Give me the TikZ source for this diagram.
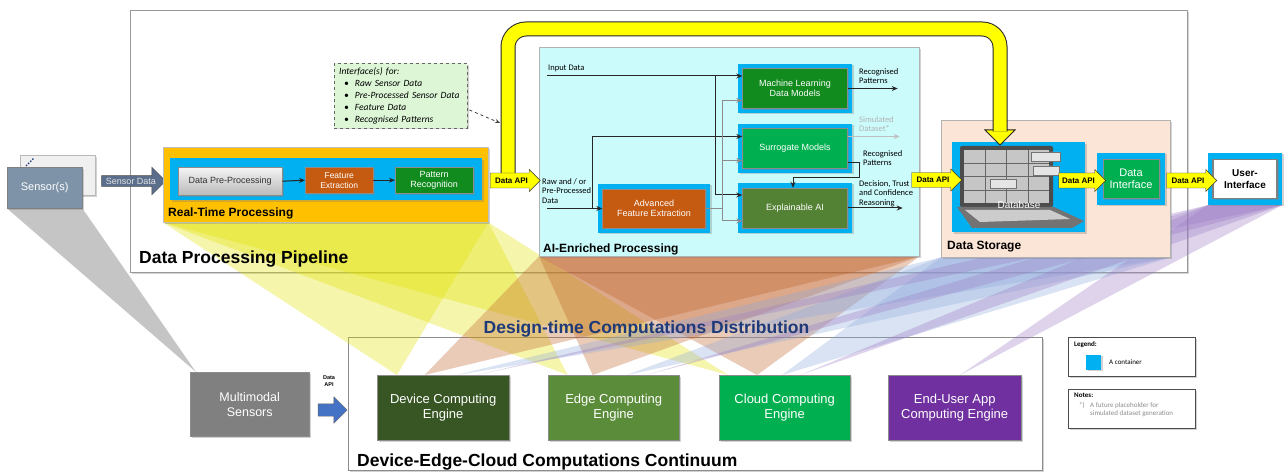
\documentclass[tikz,border=0pt]{standalone}
\usepackage{fontspec}
\setmainfont{Liberation Sans}
\newfontfamily\calib{Carlito}
\usetikzlibrary{shapes.arrows,shadows,calc,arrows.meta}

\definecolor{rtporange}{HTML}{FFC000}
\definecolor{contblue}{HTML}{00B0F0}
\definecolor{aicyan}{HTML}{CCFBFC}
\definecolor{storepeach}{HTML}{FBE5D6}
\definecolor{featorange}{HTML}{C55A11}
\definecolor{patgreen}{HTML}{118A1E}
\definecolor{surrgreen}{HTML}{00B050}
\definecolor{xaigreen}{HTML}{548235}
\definecolor{devgreen}{HTML}{375623}
\definecolor{edgegreen}{HTML}{5B8C3A}
\definecolor{apppurple}{HTML}{7030A0}
\definecolor{sensslate}{HTML}{7E93A8}
\definecolor{sensarrow}{HTML}{5B6E8C}
\definecolor{notegreen}{HTML}{DDF6D6}
\definecolor{navytext}{HTML}{1F3A78}
\definecolor{apiblue}{HTML}{4472C4}
\definecolor{apiyellow}{HTML}{FFFF00}
\definecolor{fanyellow}{HTML}{E2E200}
\definecolor{fanbrown}{HTML}{C0622A}
\definecolor{fanblue}{HTML}{8FAADC}
\definecolor{fanpurple}{HTML}{9B7BC4}

\pgfdeclarelayer{bg}
\pgfdeclarelayer{fans}
\pgfsetlayers{bg,fans,main}

\tikzset{
  shade box/.style={drop shadow={opacity=.35,shadow xshift=1.5pt,shadow yshift=-1.5pt}},
  area/.style={draw=black!35, inner sep=0pt, anchor=north west, shade box},
  cont/.style={fill=contblue, inner sep=0pt, shade box},
  blk/.style={draw=black!45, inner sep=1pt, align=center, text=white, font=\fontsize{9}{10.5}\selectfont, shade box},
  engine/.style={blk, anchor=north west, minimum height=65pt, font=\fontsize{13}{15.5}\selectfont},
  arealabel/.style={font=\bfseries\fontsize{12}{14}\selectfont, anchor=base west, inner sep=0pt},
  title/.style={font=\bfseries\fontsize{17.5}{20}\selectfont, inner sep=0pt},
  small/.style={font=\calib\fontsize{8.5}{9.7}\selectfont, align=left, inner sep=0pt, anchor=north west},
  flow/.style={line width=1pt, black!85, -{Stealth[length=6pt,width=5pt]}},
  gflow/.style={flow, black!45},
  api/.style={single arrow, draw=black!80, fill=apiyellow, font=\bfseries\fontsize{8}{9}\selectfont,
    inner xsep=2pt, inner ysep=4.5pt, single arrow head extend=3.5pt, minimum height=50pt},
  fan/.style={opacity=.33},
}

\begin{document}
\begin{tikzpicture}[x=1pt,y=-1pt]
\useasboundingbox (0,0) rectangle (1285,473);

% big frames
\begin{pgfonlayer}{bg}
\fill[white] (0,0) rectangle (1285,473);
\node[area, fill=white, draw=black!40, line width=.8pt, minimum width=1057pt, minimum height=262pt] (pipe) at (130,10) {};
\node[area, fill=white, draw=black!45, line width=.8pt, minimum width=694pt, minimum height=133pt] (contin) at (348,337) {};
\end{pgfonlayer}

% sensors
\node[area, fill=gray!12, draw=gray!55, minimum width=75pt, minimum height=40pt] (sensB) at (20,155) {};
\draw[navytext, line width=1.3pt, dash pattern=on 1.5pt off 1.5pt] (26,166) -- (34,158);
\node[blk, anchor=north west, fill=sensslate, draw=black!50, minimum width=75pt, minimum height=41pt,
  font=\fontsize{11}{13}\selectfont] (sensF) at (7,167) {Sensor(s)};
\node[single arrow, draw=black!70, fill=sensarrow, text=white!90!black, font=\fontsize{9}{10}\selectfont,
  inner xsep=1.5pt, inner ysep=2pt, single arrow head extend=8.5pt, minimum height=64pt] (sensArr) at (131,181) {Sensor Data};

% real-time processing
\node[area, fill=rtporange, draw=black!25, minimum width=325pt, minimum height=75pt] (rtp) at (163,147) {};
\node[arealabel] (rtpT) at (168,217) {Real-Time Processing};
\node[cont, anchor=north west, minimum width=312pt, minimum height=42pt] (rtC) at (170,158) {};
\node[blk, anchor=north west, top color=gray!8, bottom color=gray!55, text=black!80, minimum width=104pt, minimum height=28pt] (pre) at (178,167) {Data Pre-Processing};
\node[blk, anchor=north west, fill=featorange, minimum width=68pt, minimum height=26pt, font=\fontsize{8.5}{10}\selectfont] (feat) at (305,167) {Feature\\Extraction};
\node[blk, anchor=north west, fill=patgreen, minimum width=78pt, minimum height=26pt] (pat) at (395,167) {Pattern\\Recognition};
\draw[flow] (pre.east) -- (feat.west);
\draw[flow] (feat.east) -- (pat.west);

% note on the interfaces
\node[area, fill=notegreen, draw=black!60, dashed, align=left, text width=123pt, inner xsep=5pt, inner ysep=4pt,
  font=\calib\itshape\fontsize{9.5}{12}\selectfont] (note) at (334,63)
  {Interface(s) for:\\
   \hspace*{5pt}\textbullet\hspace{6pt}Raw Sensor Data\\
   \hspace*{5pt}\textbullet\hspace{6pt}Pre-Processed Sensor Data\\
   \hspace*{5pt}\textbullet\hspace{6pt}Feature Data\\
   \hspace*{5pt}\textbullet\hspace{6pt}Recognised Patterns};

% AI-enriched processing
\node[area, fill=aicyan, draw=black!30, minimum width=380pt, minimum height=209pt] (ai) at (539,47) {};
\node[arealabel] (aiT) at (543,252) {AI-Enriched Processing};
\node[cont, minimum width=114pt, minimum height=49pt] (mlC) at (795,88.5) {};
\node[blk, fill=patgreen, minimum width=105pt, minimum height=40pt] (ml) at (mlC) {Machine Learning\\Data Models};
\node[cont, minimum width=114pt, minimum height=49pt] (surrC) at (795,148.5) {};
\node[blk, fill=surrgreen, minimum width=105pt, minimum height=40pt] (surr) at (surrC) {Surrogate Models};
\node[cont, minimum width=114pt, minimum height=50pt] (xaiC) at (795,208) {};
\node[blk, fill=xaigreen, minimum width=105pt, minimum height=40pt] (xai) at (xaiC) {Explainable AI};
\node[cont, minimum width=112pt, minimum height=49pt] (afeC) at (654,208.5) {};
\node[blk, fill=featorange, minimum width=103pt, minimum height=39pt] (afe) at (afeC) {Advanced\\Feature Extraction};

\node[small, anchor=base west] (inT) at (548,71) {Input Data};
\coordinate (inA) at (547,76);
\draw[flow] (inA) -- (inA -| ml.west);
\draw[flow] ($(inA)+(168,0)$) |- ($(xai.west)+(0,-13)$);

\node[small] (rawT) at (542,178) {Raw and / or\\Pre-Processed\\Data};
\coordinate (rawA) at (547,208.5);
\draw[flow] (rawA) -- (afe.west);
\draw[flow] ($(rawA)+(45,0)$) |- ($(surr.west)+(0,-12)$);

\coordinate (busT) at ($(ml.west)+(-20,12)$);
\draw[black!45, line width=1pt] (afe.east) -| (busT);
\draw[gflow] (busT) -- (busT -| ml.west);
\draw[gflow] (busT) |- ($(surr.west)+(0,12)$);
\draw[gflow] (busT) |- ($(xai.west)+(0,13)$);

\draw[flow] (ml.east) -- ++(50,0);
\node[small] (mlOut) at (859,68) {Recognised\\Patterns};
\draw[flow, black!25] ($(surr.east)+(0,-12)$) -- ++(52,0);
\node[small, text=black!30] (simOut) at (859,116) {Simulated\\Dataset*};
\draw[flow] ($(surr.east)+(0,14)$) -- ++(12,0) -- ++(0,15) -| ($(xai.north)+(-2,0)$);
\node[small] (surrOut) at (863,150) {Recognised\\Patterns};
\draw[flow] (xai.east) -- ++(55,0);
\node[small] (xaiOut) at (859,180) {Decision, Trust\\and Confidence\\Reasoning};

% data storage
\node[area, fill=storepeach, draw=black!30, minimum width=229pt, minimum height=137pt] (store) at (941,120) {};
\node[arealabel] (storeT) at (947,250) {Data Storage};
\node[cont, anchor=north west, minimum width=133pt, minimum height=90pt] (db) at (952,142) {};
% laptop with a cabinet of drawers
\fill[black!70, rounded corners=2pt] (960,146) rectangle (1053,207);
\fill[gray!45] (964,150) rectangle (1049,203);
\draw[black!60, line width=.8pt] (985,150) -- (985,203) (1006,150) -- (1006,203) (1028,150) -- (1028,203)
  (964,163) -- (1049,163) (964,176.5) -- (1049,176.5) (964,190) -- (1049,190);
\filldraw[fill=gray!20, draw=black!55] (1031,152) rectangle (1060,161) (990,179) rectangle (1016,188) (1033,166) rectangle (1059,175);
\fill[black!55] (957,207) -- (1054,207) -- (1084,221) -- (1072,228) -- (972,228) -- cycle;
\fill[gray!40] (965,210) -- (1050,210) -- (1070,219) -- (980,222) -- cycle;
\node[font=\fontsize{10}{12}\selectfont, text=white, inner sep=0pt] (dbT) at (1019,205) {Database};

\node[cont, minimum width=68pt, minimum height=52pt] (diC) at (1131,179) {};
\node[blk, fill=surrgreen, minimum width=56pt, minimum height=39pt, font=\fontsize{11}{12.5}\selectfont] (di) at (diC) {Data\\Interface};
\node[cont, minimum width=74pt, minimum height=52pt] (uiC) at (1245,179) {};
\node[blk, fill=white, draw=black!50, line width=1.5pt, text=black, minimum width=64pt, minimum height=39pt,
  font=\bfseries\fontsize{10}{12}\selectfont] (ui) at (uiC) {User-\\Interface};

% the yellow data API loop
\coordinate (loopS) at (508,181);
\coordinate (loopT) at (508,29);
\coordinate (loopE) at (1000,130);
\coordinate (loopTip) at ($(loopE)+(0,15)$);
\coordinate (loopIn) at (500,123);
\filldraw[fill=apiyellow, draw=black!85, line width=1pt] ($(loopE)+(-15,0)$) -- ($(loopE)+(15,0)$) -- (loopTip) -- cycle;
\draw[draw=black!85, line width=1pt, double=apiyellow, double distance=13pt, rounded corners=18pt]
  (loopS) -- (loopT) -- (loopT -| loopE) -- ($(loopE)+(0,1.5)$);
\draw[dashed, black!75, line width=.8pt, -{Stealth[length=5pt,width=4pt]}] ($(note.south east)+(2,-18)$) -- (loopIn);

\node[api] (apiRT) at (511.5,180.5) {Data API};
\node[api] (apiAI) at (933,180) {Data API};
\node[api, minimum height=47pt] (apiDB) at (1078.5,180.5) {Data API};
\node[api] (apiDI) at (1188,180.5) {Data API};

\node[title, anchor=base west] (pipeT) at (139,263) {Data Processing Pipeline};

% computing engines
\node[title, text=navytext, anchor=base] (distT) at (646.5,333) {Design-time Computations Distribution};
\node[title, anchor=base west] (continT) at (357,466) {Device-Edge-Cloud Computations Continuum};
\node[engine, fill=black!50, minimum width=119pt, minimum height=64pt, font=\fontsize{12.5}{15}\selectfont] (multi) at (190,372) {Multimodal\\Sensors};
\node[font=\bfseries\fontsize{5.5}{6.5}\selectfont, align=center, inner sep=0pt] (apiT) at (329,381) {Data\\API};
\node[single arrow, draw=black!60, fill=apiblue, inner xsep=0pt, inner ysep=6pt, single arrow head extend=7pt, minimum height=29pt] (apiMM) at (329.5,410) {};
\node[engine, fill=devgreen, minimum width=132pt] (dev) at (377,375) {Device Computing\\Engine};
\node[engine, fill=edgegreen, minimum width=131pt] (edge) at (548,375) {Edge Computing\\Engine};
\node[engine, fill=surrgreen, minimum width=131pt] (cloud) at (719,375) {Cloud Computing\\Engine};
\node[engine, fill=apppurple, minimum width=133pt] (app) at (888,375) {End-User App\\Computing Engine};

% legend and notes
\node[area, fill=white, draw=black!70, minimum width=127pt, minimum height=39pt] (legend) at (1068,337) {};
\node[small, font=\calib\bfseries\fontsize{7}{8}\selectfont] (legT) at (1074,341) {Legend:};
\node[cont, minimum width=15pt, minimum height=15pt] (legBox) at (1093.5,362) {};
\node[small, anchor=west, font=\calib\fontsize{7}{8}\selectfont] (legTxt) at (1109,362) {A container};
\node[area, fill=white, draw=black!70, minimum width=127pt, minimum height=39pt] (notes) at (1068,389) {};
\node[small, font=\calib\bfseries\fontsize{7}{8}\selectfont] (notesT) at (1074,393) {Notes:};
\node[small, text=black!45, font=\calib\fontsize{7}{8.5}\selectfont] (notesStar) at (1079,402) {*)};
\node[small, text=black!45, font=\calib\fontsize{7}{8.5}\selectfont] (notesTxt) at (1090,402) {A future placeholder for\\simulated dataset generation};

% distribution fans
\begin{pgfonlayer}{fans}
\fill[gray, opacity=.45] (sensF.south west) -- (sensF.south east) -- ($(multi.north west)!0.05!(multi.north east)$) -- cycle;
\fill[fanyellow, fan] (rtp.south west) -- (rtp.south east) -- ($(dev.north west)!0.15!(dev.north east)$) -- cycle;
\fill[fanyellow, fan] (rtp.south west) -- (rtp.south east) -- ($(edge.north west)!0.15!(edge.north east)$) -- cycle;
\fill[fanyellow, fan] (rtp.south west) -- (rtp.south east) -- ($(cloud.north west)!0.07!(cloud.north east)$) -- cycle;
\fill[fanbrown, fan] (ai.south west) -- (ai.south east) -- ($(dev.north west)!0.36!(dev.north east)$) -- cycle;
\fill[fanbrown, fan] (ai.south west) -- (ai.south east) -- ($(edge.north west)!0.34!(edge.north east)$) -- cycle;
\fill[fanbrown, fan] (ai.south west) -- (ai.south east) -- ($(cloud.north west)!0.29!(cloud.north east)$) -- cycle;
\fill[fanblue, fan] (store.south west) -- (store.south east) -- ($(dev.north west)!0.6!(dev.north east)$) -- cycle;
\fill[fanblue, fan] (store.south west) -- (store.south east) -- ($(edge.north west)!0.6!(edge.north east)$) -- cycle;
\fill[fanblue, fan] (store.south west) -- (store.south east) -- ($(cloud.north west)!0.48!(cloud.north east)$) -- cycle;
\fill[fanpurple, fan] (uiC.south west) -- (uiC.south east) -- ($(dev.north west)!0.75!(dev.north east)$) -- cycle;
\fill[fanpurple, fan] (uiC.south west) -- (uiC.south east) -- ($(edge.north west)!0.75!(edge.north east)$) -- cycle;
\fill[fanpurple, fan] (uiC.south west) -- (uiC.south east) -- ($(cloud.north west)!0.62!(cloud.north east)$) -- cycle;
\fill[fanpurple, fan] (uiC.south west) -- (uiC.south east) -- ($(app.north west)!0.54!(app.north east)$) -- cycle;
\end{pgfonlayer}
\end{tikzpicture}
\end{document}
